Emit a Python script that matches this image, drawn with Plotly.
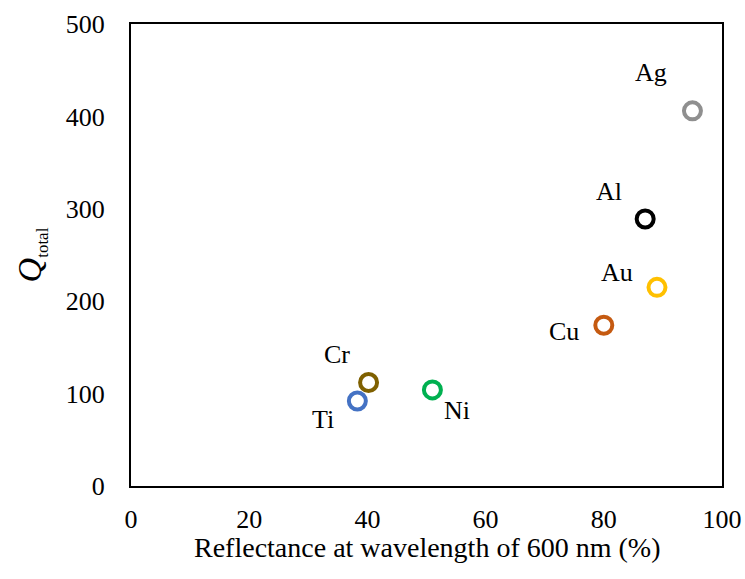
import plotly.graph_objects as go

# Metal films: reflectance at 600 nm vs. total Q
metals = ["Ag", "Al", "Au", "Cu", "Cr", "Ti", "Ni"]
reflectance = [95.0, 87.0, 89.0, 80.0, 40.2, 38.3, 51.0]
q_total = [406, 289, 215, 174, 112, 92, 104]
colors = ["#8F8F8F", "#000000", "#FFC000", "#C55A11", "#7F6000", "#4472C4", "#00B050"]
# pixel offset of each name from its marker (x right, y up)
label_shift = [(-41, 38), (-36, 27), (-40, 15), (-40, -6),
               (-32, 28), (-34, -19), (25, -21)]

x_ticks = [0, 20, 40, 60, 80, 100]
y_ticks = [0, 100, 200, 300, 400, 500]

font = "Liberation Serif, Times New Roman, serif"

fig = go.Figure()
for name, x, y, c, (dx, dy) in zip(metals, reflectance, q_total, colors, label_shift):
    fig.add_trace(go.Scatter(
        x=[x], y=[y], mode="markers",
        marker=dict(symbol="circle-open", size=17, color=c,
                    line=dict(color=c, width=4)),
        showlegend=False, cliponaxis=False, name=name,
    ))
    fig.add_annotation(
        x=x, y=y, text=name, showarrow=False, xshift=dx, yshift=dy,
        xanchor="center", yanchor="middle",
        font=dict(family=font, size=26, color="#000000"),
    )

# x-axis title placed just below the tick labels
fig.add_annotation(
    xref="paper", yref="paper", x=0.5, y=0, yshift=-61,
    xanchor="center", yanchor="middle", showarrow=False,
    text="Reflectance at wavelength of 600 nm (%)",
    font=dict(family=font, size=28, color="#000000"),
)

fig.update_layout(
    width=745, height=579,
    margin=dict(l=131, r=23, t=24, b=93),
    paper_bgcolor="white", plot_bgcolor="white",
    font=dict(family=font, size=26, color="#000000"),
)
fig.update_xaxes(
    range=[0, 100], tickvals=x_ticks, showgrid=False, zeroline=False,
    showline=True, mirror=True, linecolor="#000000", linewidth=2,
    ticks="", ticklabelstandoff=9, automargin=False,
)
fig.update_yaxes(
    range=[0, 500], tickvals=y_ticks, showgrid=False, zeroline=False,
    showline=True, mirror=True, linecolor="#000000", linewidth=2,
    ticks="", ticklabelstandoff=19, automargin=False,
    title=dict(text="<i>Q</i><sub><span style=\"font-size:17px\">total</span></sub>",
               font=dict(family=font, size=34), standoff=14),
)

fig.write_html("out.html")
